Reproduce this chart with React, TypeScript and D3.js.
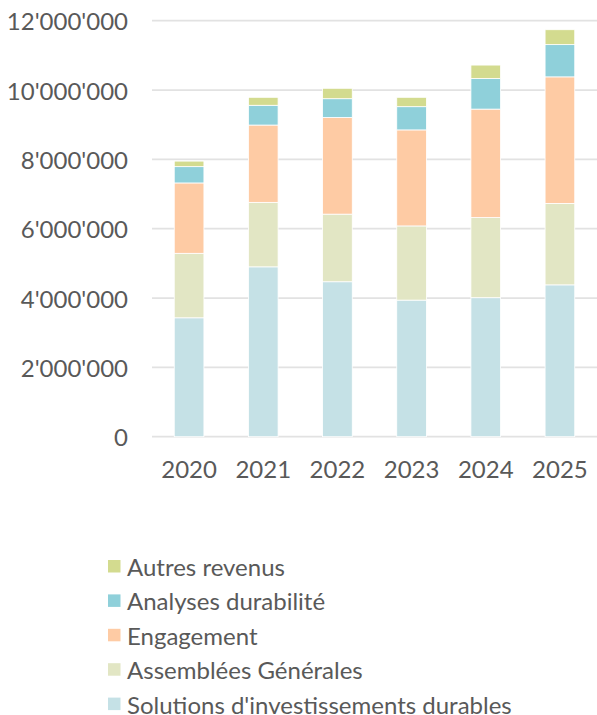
import * as d3 from "d3";

const years = ["2020", "2021", "2022", "2023", "2024", "2025"];

const solutions = [3430000, 4900000, 4470000, 3940000, 4010000, 4380000];
const assemblees = [1860000, 1860000, 1950000, 2140000, 2310000, 2350000];
const engagement = [2030000, 2230000, 2790000, 2770000, 3130000, 3650000];
const analyses = [470000, 570000, 540000, 670000, 880000, 930000];
const autres = [160000, 230000, 300000, 270000, 390000, 430000];

const seriesNames = [
  "Solutions d'investissements durables",
  "Assemblées Générales",
  "Engagement",
  "Analyses durabilité",
  "Autres revenus",
];
const seriesColors = ["#c5e1e6", "#e2e6c4", "#fecba4", "#8fd0da", "#d3db8f"];
const yTicks = [0, 2000000, 4000000, 6000000, 8000000, 10000000, 12000000];

const width = 597;
const height = 715;
const marginLeft = 152;
const marginRight = 0;
const plotTop = 20.7;
const plotBottom = 436.7;
const font = "Lato, 'Open Sans', sans-serif";
const textColor = "#595959";
const fontSize = 24;

const fmt = (v: number) => d3.format(",")(v).replace(/,/g, "'");

export default function App() {
  const keys = seriesNames;
  const rows = years.map((y, i) => ({
    year: y,
    [keys[0]]: solutions[i],
    [keys[1]]: assemblees[i],
    [keys[2]]: engagement[i],
    [keys[3]]: analyses[i],
    [keys[4]]: autres[i],
  }));

  const stacked = d3.stack<any>().keys(keys)(rows);

  const x = d3
    .scaleBand()
    .domain(years)
    .range([marginLeft, width - marginRight])
    .paddingInner(0.6)
    .paddingOuter(0.3);

  const y = d3.scaleLinear().domain([0, 12000000]).range([plotBottom, plotTop]);

  // legend is listed top-down in reverse stack order
  const legendOrder = [4, 3, 2, 1, 0];

  return (
    <svg
      width={width}
      height={height}
      style={{ position: "absolute", left: 0, top: 0, background: "#fff" }}
      fontFamily={font}
    >
      {yTicks.map((t) => (
        <g key={t}>
          <line
            x1={marginLeft}
            x2={width - marginRight}
            y1={y(t)}
            y2={y(t)}
            stroke="#e2e2e2"
            strokeWidth={1.8}
          />
          <text
            x={128}
            y={y(t)}
            textAnchor="end"
            dominantBaseline="central"
            fontSize={fontSize}
            fill={textColor}
          >
            {fmt(t)}
          </text>
        </g>
      ))}

      {stacked.map((s, si) => (
        <g key={s.key} fill={seriesColors[si]}>
          {s.map((d, i) => (
            <rect
              key={i}
              x={x(years[i])}
              width={x.bandwidth()}
              y={y(d[1])}
              height={y(d[0]) - y(d[1])}
              stroke="#fff"
              strokeWidth={0.8}
            />
          ))}
        </g>
      ))}

      {years.map((yr) => (
        <text
          key={yr}
          x={(x(yr) ?? 0) + x.bandwidth() / 2}
          y={468}
          textAnchor="middle"
          dominantBaseline="central"
          fontSize={fontSize}
          fill={textColor}
        >
          {yr}
        </text>
      ))}

      {legendOrder.map((si, row) => {
        const cy = 566.5 + row * 34.4;
        return (
          <g key={si}>
            <rect x={108} y={cy - 6.5} width={12.5} height={12.5} fill={seriesColors[si]} />
            <text
              x={127}
              y={cy}
              dominantBaseline="central"
              fontSize={fontSize}
              fill={textColor}
            >
              {seriesNames[si]}
            </text>
          </g>
        );
      })}
    </svg>
  );
}
